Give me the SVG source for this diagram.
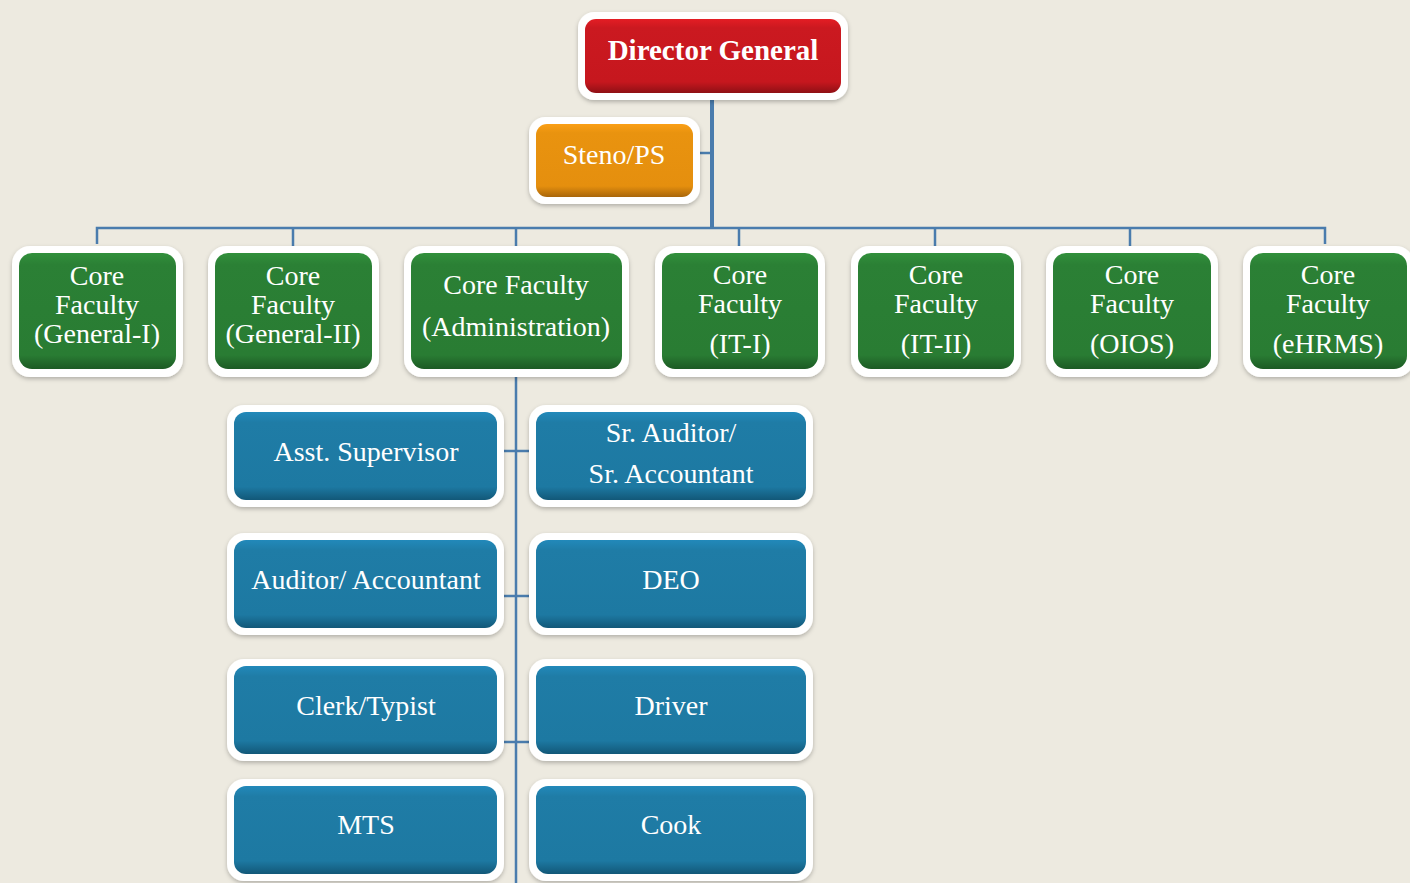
<svg xmlns="http://www.w3.org/2000/svg" width="1410" height="883" viewBox="0 0 1410 883">
  <defs>
    <filter id="shadow" x="-10%" y="-10%" width="120%" height="130%">
      <feDropShadow dx="0" dy="2" stdDeviation="2" flood-color="#000" flood-opacity="0.25"/>
    </filter>
    <linearGradient id="gRed" x1="0" y1="0" x2="0" y2="1">
      <stop offset="0" stop-color="#E41D24"/>
      <stop offset="0.12" stop-color="#CB1920"/>
      <stop offset="0.85" stop-color="#C6171E"/>
      <stop offset="1" stop-color="#8F1015"/>
    </linearGradient>
    <linearGradient id="gOrange" x1="0" y1="0" x2="0" y2="1">
      <stop offset="0" stop-color="#FA9F16"/>
      <stop offset="0.12" stop-color="#E9930F"/>
      <stop offset="0.85" stop-color="#E58F0E"/>
      <stop offset="1" stop-color="#A9660A"/>
    </linearGradient>
    <linearGradient id="gGreen" x1="0" y1="0" x2="0" y2="1">
      <stop offset="0" stop-color="#31903B"/>
      <stop offset="0.1" stop-color="#2B8035"/>
      <stop offset="0.88" stop-color="#297C33"/>
      <stop offset="1" stop-color="#1C5A24"/>
    </linearGradient>
    <linearGradient id="gBlue" x1="0" y1="0" x2="0" y2="1">
      <stop offset="0" stop-color="#2289BA"/>
      <stop offset="0.12" stop-color="#1F7CA6"/>
      <stop offset="0.85" stop-color="#1D79A2"/>
      <stop offset="1" stop-color="#125878"/>
    </linearGradient>
  </defs>
  <style>
    .frame { fill: #FFFFFF; filter: url(#shadow); }
    .red { fill: url(#gRed); }
    .orange { fill: url(#gOrange); }
    .green { fill: url(#gGreen); }
    .blue { fill: url(#gBlue); }
    text { font-family: "Liberation Serif", "Times New Roman", serif; fill: #FFFFFF; font-size: 28px; text-anchor: middle; }
    .bold { font-weight: bold; font-size: 29px; }
    .line { stroke: #4A7CAD; fill: none; stroke-width: 2.5; }
    .trunk { stroke: #4A7CAD; fill: none; stroke-width: 4; }
  </style>

  <rect width="1410" height="883" fill="#EDEAE0"/>

  <!-- connectors -->
  <g id="connectors">
    <line class="trunk" x1="712" y1="98" x2="712" y2="229"/>
    <line class="line" x1="699" y1="153" x2="712" y2="153"/>
    <polyline class="line" points="97,244 97,228 1325,228 1325,244"/>
    <line class="line" x1="293" y1="228" x2="293" y2="246"/>
    <line class="line" x1="516" y1="228" x2="516" y2="246"/>
    <line class="line" x1="739" y1="228" x2="739" y2="246"/>
    <line class="line" x1="935" y1="228" x2="935" y2="246"/>
    <line class="line" x1="1130" y1="228" x2="1130" y2="246"/>
    <line class="line" x1="516" y1="376" x2="516" y2="883"/>
    <line class="line" x1="503" y1="451" x2="530" y2="451"/>
    <line class="line" x1="503" y1="596" x2="530" y2="596"/>
    <line class="line" x1="503" y1="742" x2="530" y2="742"/>
  </g>

  <!-- top level -->
  <g id="director-general">
    <rect class="frame" x="578" y="12" width="270" height="88" rx="16"/>
    <rect class="red" x="585" y="19" width="256" height="74" rx="11"/>
    <text class="bold" x="713" y="60">Director General</text>
  </g>

  <g id="steno-ps">
    <rect class="frame" x="529" y="117" width="171" height="87" rx="16"/>
    <rect class="orange" x="536" y="124" width="157" height="73" rx="11"/>
    <text x="614" y="164">Steno/PS</text>
  </g>

  <!-- core faculties -->
  <g id="cf-general-1">
    <rect class="frame" x="12" y="246" width="171" height="131" rx="18"/>
    <rect class="green" x="19" y="253" width="157" height="116" rx="13"/>
    <text x="97" y="285">Core</text>
    <text x="97" y="314">Faculty</text>
    <text x="97" y="343">(General-I)</text>
  </g>

  <g id="cf-general-2">
    <rect class="frame" x="208" y="246" width="171" height="131" rx="18"/>
    <rect class="green" x="215" y="253" width="157" height="116" rx="13"/>
    <text x="293" y="285">Core</text>
    <text x="293" y="314">Faculty</text>
    <text x="293" y="343">(General-II)</text>
  </g>

  <g id="cf-administration">
    <rect class="frame" x="404" y="246" width="225" height="131" rx="18"/>
    <rect class="green" x="411" y="253" width="211" height="116" rx="13"/>
    <text x="516" y="294">Core Faculty</text>
    <text x="516" y="336">(Administration)</text>
  </g>

  <g id="cf-it-1">
    <rect class="frame" x="655" y="246" width="170" height="131" rx="18"/>
    <rect class="green" x="662" y="253" width="156" height="116" rx="13"/>
    <text x="740" y="284">Core</text>
    <text x="740" y="313">Faculty</text>
    <text x="740" y="353">(IT-I)</text>
  </g>

  <g id="cf-it-2">
    <rect class="frame" x="851" y="246" width="170" height="131" rx="18"/>
    <rect class="green" x="858" y="253" width="156" height="116" rx="13"/>
    <text x="936" y="284">Core</text>
    <text x="936" y="313">Faculty</text>
    <text x="936" y="353">(IT-II)</text>
  </g>

  <g id="cf-oios">
    <rect class="frame" x="1046" y="246" width="172" height="131" rx="18"/>
    <rect class="green" x="1053" y="253" width="158" height="116" rx="13"/>
    <text x="1132" y="284">Core</text>
    <text x="1132" y="313">Faculty</text>
    <text x="1132" y="353">(OIOS)</text>
  </g>

  <g id="cf-ehrms">
    <rect class="frame" x="1243" y="246" width="171" height="131" rx="18"/>
    <rect class="green" x="1250" y="253" width="157" height="116" rx="13"/>
    <text x="1328" y="284">Core</text>
    <text x="1328" y="313">Faculty</text>
    <text x="1328" y="353">(eHRMS)</text>
  </g>

  <!-- administration staff -->
  <g id="asst-supervisor">
    <rect class="frame" x="227" y="405" width="277" height="102" rx="17"/>
    <rect class="blue" x="234" y="412" width="263" height="88" rx="12"/>
    <text x="366" y="461">Asst. Supervisor</text>
  </g>

  <g id="sr-auditor">
    <rect class="frame" x="529" y="405" width="284" height="102" rx="17"/>
    <rect class="blue" x="536" y="412" width="270" height="88" rx="12"/>
    <text x="671" y="442">Sr. Auditor/</text>
    <text x="671" y="483">Sr. Accountant</text>
  </g>

  <g id="auditor-accountant">
    <rect class="frame" x="227" y="533" width="277" height="102" rx="17"/>
    <rect class="blue" x="234" y="540" width="263" height="88" rx="12"/>
    <text x="366" y="589">Auditor/ Accountant</text>
  </g>

  <g id="deo">
    <rect class="frame" x="529" y="533" width="284" height="102" rx="17"/>
    <rect class="blue" x="536" y="540" width="270" height="88" rx="12"/>
    <text x="671" y="589">DEO</text>
  </g>

  <g id="clerk-typist">
    <rect class="frame" x="227" y="659" width="277" height="102" rx="17"/>
    <rect class="blue" x="234" y="666" width="263" height="88" rx="12"/>
    <text x="366" y="715">Clerk/Typist</text>
  </g>

  <g id="driver">
    <rect class="frame" x="529" y="659" width="284" height="102" rx="17"/>
    <rect class="blue" x="536" y="666" width="270" height="88" rx="12"/>
    <text x="671" y="715">Driver</text>
  </g>

  <g id="mts">
    <rect class="frame" x="227" y="779" width="277" height="102" rx="17"/>
    <rect class="blue" x="234" y="786" width="263" height="88" rx="12"/>
    <text x="366" y="834">MTS</text>
  </g>

  <g id="cook">
    <rect class="frame" x="529" y="779" width="284" height="102" rx="17"/>
    <rect class="blue" x="536" y="786" width="270" height="88" rx="12"/>
    <text x="671" y="834">Cook</text>
  </g>
</svg>
